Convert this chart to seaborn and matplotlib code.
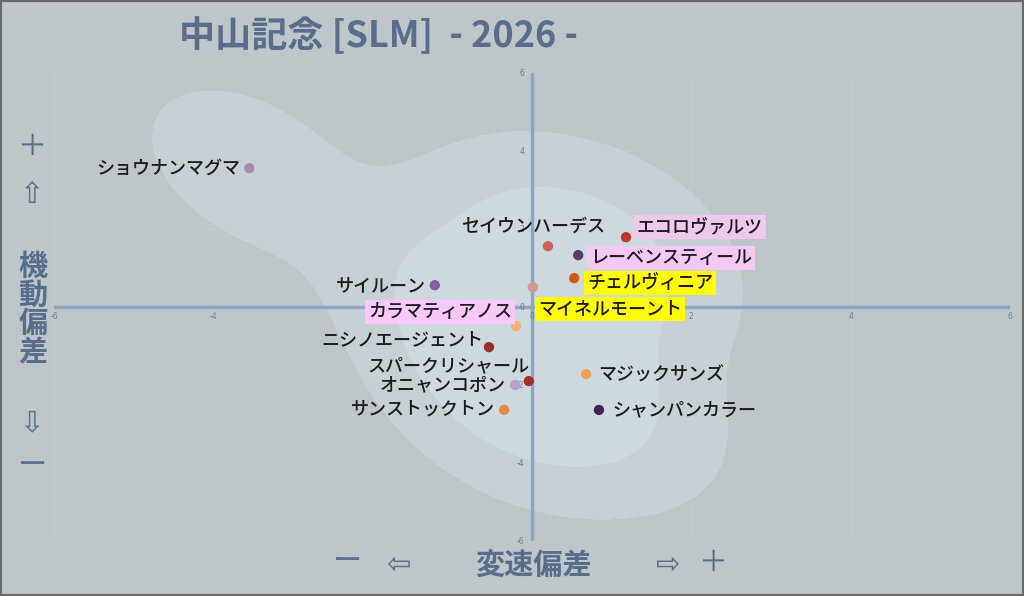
import numpy as np
import pandas as pd
import matplotlib
matplotlib.use("Agg")
import matplotlib.pyplot as plt
from matplotlib.colors import ListedColormap
import seaborn as sns

# data
horses = ["ショウナンマグマ", "セイウンハーデス", "エコロヴァルツ", "レーベンスティール",
          "チェルヴィニア", "サイルーン", "マイネルモーント", "カラマティアノス",
          "ニシノエージェント", "スパークリシャール", "オニャンコポン", "サンストックトン",
          "マジックサンズ", "シャンパンカラー"]
speed_dev = [-3.55, 0.20, 1.18, 0.58, 0.53, -1.22, 0.01, -0.20, -0.54, -0.04, -0.21, -0.35, 0.68, 0.84]
mobility_dev = [3.56, 1.56, 1.79, 1.33, 0.74, 0.56, 0.51, -0.49, -1.03, -1.90, -2.00, -2.64, -1.72, -2.64]
dot_colors = ["#a58ca8", "#c8645e", "#c0342e", "#5a3a68", "#d05a14", "#8a5ca0", "#d69a98",
              "#f2b27c", "#963030", "#a82c2c", "#b4a2c8", "#e48c4c", "#f4a25a", "#3e2650"]
highlight = [None, None, "#f0c8ec", "#f3c8f3", "#ffff00", None, "#ffff00", "#f8c8f8",
             None, None, None, None, None, None]
ticks = [-6, -4, -2, 0, 2, 4, 6]

# label offsets in pixels (dx, dy, ha)
offsets = [(-9, 0, "right"), (58, 19, "right"), (11, 10, "left"), (12, -3, "left"),
           (13, -5, "left"), (-9, -1, "right"), (5, -22, "left"), (-4, 14, "right"),
           (-6, 7, "right"), (1, 15, "right"), (-10, 0, "right"), (-9, 0, "right"),
           (12, -1, "left"), (13, 0, "left")]

df = pd.DataFrame({"horse": horses, "x": speed_dev, "y": mobility_dev})

sns.set_theme(style="white")
plt.rcParams["font.family"] = ["Noto Sans CJK JP", "DejaVu Sans"]

bg = "#bec6c9"
navy = "#5a6e8c"

fig = plt.figure(figsize=(10.24, 5.96), dpi=100, facecolor=bg)
ax = fig.add_axes([54 / 1024, 1 - 541 / 596, 956 / 1024, 468 / 596])
ax.set_facecolor(bg)

# density blobs
kde_cmap = ListedColormap(["#c7d1d5", "#cdd9de", "#d8e9ef"])
sns.kdeplot(data=df, x="x", y="y", fill=True, levels=[0.06, 0.18, 0.32, 1.0],
            bw_adjust=1.2, cmap=kde_cmap, ax=ax, zorder=1)

# grid + zero lines
for t in ticks:
    ax.axvline(t, color="#c3cacd", lw=0.8, zorder=0.5)
    ax.axhline(t, color="#c3cacd", lw=0.8, zorder=0.5)
ax.axhline(0, color="#8ea6c6", lw=2.5, zorder=2)
ax.axvline(0, color="#8ea6c6", lw=2.5, zorder=2)

ax.set_xlim(-6, 6)
ax.set_ylim(-6, 6)
ax.set_xticks([])
ax.set_yticks([])
ax.set_xlabel("")
ax.set_ylabel("")
for s in ax.spines.values():
    s.set_visible(False)

# tick labels next to the zero lines
for t in ticks:
    ax.text(t, -0.12, str(t), ha="center", va="top", fontsize=5.5, color="#6c7c92",
            family="DejaVu Sans", zorder=3)
    ax.text(-0.1, t, str(t), ha="right", va="center", fontsize=5.5, color="#6c7c92",
            family="DejaVu Sans", zorder=3)

# points
ax.scatter(df["x"], df["y"], c=dot_colors, s=55, edgecolors="none", zorder=4)

# labels
for i, name in enumerate(horses):
    dx, dy, ha = offsets[i]
    box = None
    if highlight[i]:
        box = dict(boxstyle="square,pad=0.18", fc=highlight[i], ec="none")
    ax.annotate(name, (speed_dev[i], mobility_dev[i]), xytext=(dx * 0.72, dy * 0.72),
                textcoords="offset points", ha=ha, va="center", fontsize=13,
                fontweight="medium", color="#1c1c1c", bbox=box, zorder=5)

# title
fig.text(378 / 1024, 1 - 36 / 596, "中山記念 [SLM]  - 2026 -", ha="center", va="center",
         fontsize=26, fontweight="bold", color=navy)

# left axis label
fam = ["Noto Sans CJK JP", "DejaVu Sans"]
fig.text(33 / 1024, 1 - 147 / 596, "＋", ha="center", va="center", fontsize=21, color=navy, family=fam)
fig.text(31 / 1024, 1 - 195 / 596, "⇧", ha="center", va="center", fontsize=21, color=navy, family=["DejaVu Sans"])
fig.text(33 / 1024, 1 - 309 / 596, "機\n動\n偏\n差", ha="center", va="center", fontsize=21,
         fontweight="bold", color=navy, linespacing=0.95, family=fam)
fig.text(31 / 1024, 1 - 423 / 596, "⇩", ha="center", va="center", fontsize=21, color=navy, family=["DejaVu Sans"])
fig.text(33 / 1024, 1 - 467 / 596, "ー", ha="center", va="center", fontsize=21, color=navy, family=fam)

# bottom axis label
fig.text(348 / 1024, 1 - 563 / 596, "ー", ha="center", va="center", fontsize=21, color=navy, family=fam)
fig.text(398 / 1024, 1 - 565 / 596, "⇦", ha="center", va="center", fontsize=21, color=navy, family=["DejaVu Sans"])
fig.text(533 / 1024, 1 - 565 / 596, "変速偏差", ha="center", va="center", fontsize=21,
         fontweight="bold", color=navy, family=fam)
fig.text(668 / 1024, 1 - 565 / 596, "⇨", ha="center", va="center", fontsize=21, color=navy, family=["DejaVu Sans"])
fig.text(714 / 1024, 1 - 563 / 596, "＋", ha="center", va="center", fontsize=21, color=navy, family=fam)

# frame
fig.patches.append(plt.Rectangle((0, 0), 1, 1, transform=fig.transFigure, fill=False,
                                 ec="#6a6a6a", lw=3))

fig.savefig("out.png", dpi=100, facecolor=bg)
